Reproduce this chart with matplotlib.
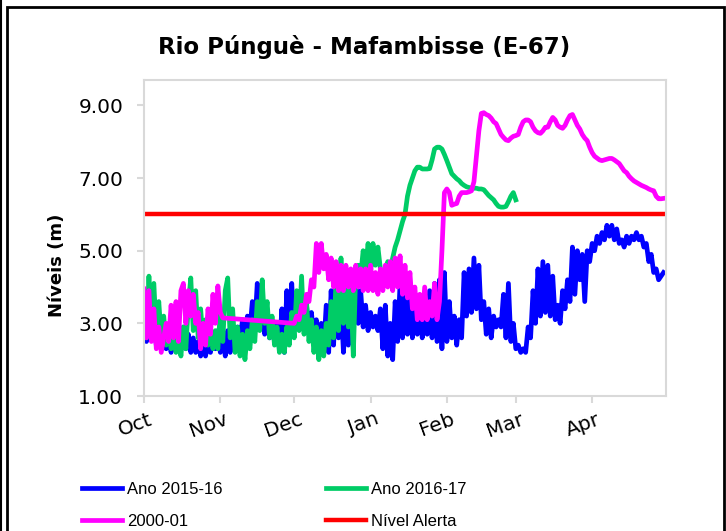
import numpy as np
import matplotlib
matplotlib.use("Agg")
import matplotlib.pyplot as plt
from matplotlib import font_manager
from matplotlib.patches import Rectangle
from matplotlib.lines import Line2D
import matplotlib.transforms as mtransforms

# ---------------- data (daily levels, day 0 = 1 Oct) ----------------
months = ["Oct", "Nov", "Dec", "Jan", "Feb", "Mar", "Apr"]
month_start_days = [0, 31, 61, 92, 123, 151, 182]
season_days = 212
alert_level = 6.0

ano_2015_16 = [
    2.9, 2.5, 3.2, 2.6, 3.1, 2.4, 2.9, 2.3, 2.8, 2.3,
    2.7, 2.2, 2.8, 2.3, 2.7, 2.4, 2.9, 2.3, 2.7, 2.2,
    2.6, 2.2, 2.5, 2.1, 2.4, 2.1, 2.5, 2.2, 2.7, 2.3,
    2.8, 2.2, 2.7, 2.1, 2.8, 2.2, 2.9, 2.3, 2.9, 2.5,
    3.1, 2.7, 3.2, 2.8, 3.6, 2.9, 4.1, 3.0, 3.3, 2.7,
    3.2, 2.6, 3.1, 2.5, 3.0, 2.3, 3.4, 2.2, 3.9, 2.6,
    4.1, 2.8, 3.8, 3.0, 3.6, 2.9, 3.5, 2.8, 3.3, 2.6,
    3.1, 2.5, 3.0, 2.3, 3.5, 2.2, 3.9, 2.4, 4.1, 2.6,
    3.6, 2.2, 3.2, 2.4, 3.9, 2.8, 4.2, 3.0, 3.9, 2.9,
    3.5, 2.8, 3.3, 2.9, 3.2, 2.8, 3.4, 2.3, 3.5, 2.1,
    3.0, 2.0, 3.6, 2.5, 4.1, 2.6, 3.8, 2.7, 3.9, 2.6,
    3.7, 2.7, 3.6, 2.6, 3.8, 2.7, 3.9, 2.6, 4.1, 2.5,
    4.2, 2.3, 4.4, 2.5, 3.6, 2.6, 3.2, 2.4, 3.1, 2.6,
    4.4, 3.2, 4.5, 3.3, 4.8, 3.4, 4.6, 3.1, 3.6, 2.7,
    3.4, 2.6, 3.2, 2.9, 3.1, 2.9, 3.8, 2.6, 4.1, 2.5,
    3.0, 2.3, 2.4, 2.2, 2.3, 2.2, 2.9, 2.6, 3.9, 3.0,
    4.5, 3.2, 4.7, 3.3, 4.6, 3.2, 4.3, 3.1, 3.5, 3.0,
    3.9, 3.4, 4.2, 3.6, 5.1, 3.8, 5.0, 4.2, 4.9, 3.6,
    5.0, 4.7, 5.2, 5.0, 5.4, 5.2, 5.5, 5.3, 5.7, 5.4,
    5.7, 5.3, 5.6, 5.2, 5.3, 5.1, 5.4, 5.2, 5.4, 5.3,
    5.5, 5.3, 5.4, 5.1, 5.2, 4.7, 4.9, 4.4, 4.5, 4.2,
    4.3, 4.4,
]

ano_2016_17 = [
    3.2, 2.6, 4.3, 2.8, 4.1, 2.7, 3.6, 2.6, 3.2, 2.4,
    2.9, 2.3, 2.7, 2.2, 2.6, 2.1, 2.9, 2.3, 3.5, 4.25,
    2.8, 3.9, 2.6, 3.4, 2.5, 3.1, 2.4, 2.9, 2.3, 2.8,
    2.3, 3.3, 2.5, 3.9, 4.25, 2.6, 3.4, 2.2, 2.9, 2.1,
    2.7, 2.0, 2.8, 2.3, 3.1, 2.5, 3.6, 2.8, 4.2, 3.0,
    3.6, 2.6, 3.2, 2.4, 2.9, 2.2, 2.7, 2.2, 2.9, 2.4,
    3.3, 2.6, 3.9, 2.8, 4.3, 2.7, 3.6, 2.5, 3.1, 2.2,
    2.9, 2.0, 2.8, 2.1, 3.0, 2.4, 3.6, 2.6, 4.2, 2.8,
    4.8, 3.0, 4.5, 2.9, 4.0, 2.1, 4.4, 4.6, 4.3, 5.0,
    4.5, 5.2, 4.4, 5.2, 4.6, 5.1, 4.5, 4.4, 4.5, 4.7,
    4.5, 4.8, 5.1, 5.3, 5.55, 5.8, 6.0, 6.5, 6.8, 7.0,
    7.2, 7.3, 7.3, 7.25, 7.25, 7.25, 7.26, 7.5, 7.8, 7.85,
    7.85, 7.8, 7.65, 7.48, 7.3, 7.12, 7.05, 6.98, 6.93, 6.85,
    6.8, 6.76, 6.74, 6.73, 6.72, 6.72, 6.7, 6.7, 6.68, 6.6,
    6.52, 6.46, 6.4, 6.3, 6.22, 6.2, 6.2, 6.22, 6.35, 6.5,
    6.6, 6.4,
]

# 2000-01: October record, gap, then 1 Dec onwards
ano_2000_01_oct = [
    3.95, 2.6, 3.9, 2.5, 3.4, 2.3, 2.9, 2.2, 2.6, 3.0,
    2.5, 3.5, 2.6, 3.6, 2.5, 3.9, 4.1, 3.0, 3.9, 3.2,
    3.8, 3.0, 3.3, 2.3, 3.0, 2.4, 3.4, 2.7, 3.8, 3.0,
    4.03, 3.3, 3.15,
]
ano_2000_01_dec_start = 61
ano_2000_01_dec = [
    3.0, 3.2, 3.1, 3.5, 3.3, 3.8, 3.6, 4.2, 4.0, 5.2,
    4.4, 5.2, 4.5, 4.9, 4.2, 4.8, 4.0, 4.7, 3.9, 4.6,
    3.9, 4.6, 4.0, 4.5, 3.9, 4.6, 4.0, 4.5, 3.9, 4.5,
    3.9, 4.6, 3.9, 4.4, 3.8, 4.5, 3.9, 4.6, 4.0, 4.7,
    3.9, 4.8, 4.0, 4.86, 3.8, 4.6, 3.7, 4.4, 3.4, 4.0,
    3.1, 3.8, 3.1, 4.0, 3.1, 3.6, 3.2, 4.1, 3.1, 3.6,
    5.0, 6.6, 6.7, 6.6, 6.25, 6.28, 6.3, 6.5, 6.6, 6.6,
    6.6, 6.62, 6.65, 6.9, 7.6, 8.3, 8.78, 8.8, 8.75, 8.72,
    8.65, 8.55, 8.5, 8.35, 8.2, 8.12, 8.05, 8.03, 8.1, 8.15,
    8.17, 8.2, 8.4, 8.55, 8.6, 8.6, 8.55, 8.4, 8.3, 8.25,
    8.23, 8.3, 8.4, 8.4, 8.55, 8.67, 8.6, 8.45, 8.4, 8.37,
    8.45, 8.6, 8.72, 8.75, 8.6, 8.45, 8.35, 8.2, 8.1, 8.03,
    7.85, 7.7, 7.6, 7.55, 7.5, 7.48, 7.5, 7.52, 7.54, 7.54,
    7.5, 7.45, 7.4, 7.3, 7.2, 7.15, 7.05, 6.98, 6.92, 6.88,
    6.84, 6.8, 6.77, 6.74, 6.7, 6.67, 6.65, 6.5, 6.43, 6.43,
    6.44,
]

labels = ["Ano 2015-16", "Ano 2016-17", "2000-01", "Nível Alerta"]
colors = ["#0000FF", "#00CC66", "#FF00FF", "#FF0000"]

# ---------------- figure ----------------
W, H = 726, 531
fig = plt.figure(figsize=(W / 100, H / 100), dpi=100)
fig.patch.set_facecolor("white")

def fx(px):
    return px / W

def fy(py):
    return 1 - py / H

ax = fig.add_axes([fx(144), fy(396), fx(666) - fx(144), fy(80) - fy(396)])

x_blue = np.arange(len(ano_2015_16))
x_green = np.arange(len(ano_2016_17))
x_mag = np.concatenate([np.arange(len(ano_2000_01_oct)),
                        ano_2000_01_dec_start + np.arange(len(ano_2000_01_dec))])
y_mag = np.array(ano_2000_01_oct + ano_2000_01_dec)

lw = 3.4
l_blue, = ax.plot(x_blue, ano_2015_16, color=colors[0], lw=lw, solid_joinstyle="round")
l_green, = ax.plot(x_green, ano_2016_17, color=colors[1], lw=lw, solid_joinstyle="round")
l_mag, = ax.plot(x_mag, y_mag, color=colors[2], lw=lw, solid_joinstyle="round")
l_red, = ax.plot([0, season_days], [alert_level, alert_level], color=colors[3], lw=3.2)

ax.set_xlim(0, season_days)
ax.set_ylim(1.0, 9.7)

grey = "#d9d9d9"
for s in ax.spines.values():
    s.set_color(grey)
    s.set_linewidth(1.5)

ax.set_yticks([1, 3, 5, 7, 9])
ax.set_yticklabels(["%.2f" % v for v in [1, 3, 5, 7, 9]])
ax.set_xticks(month_start_days)
ax.set_xticklabels(months)
ax.tick_params(axis="both", color=grey, width=1.5, length=5, direction="out",
               labelsize=14.5, labelcolor="black")
ax.tick_params(axis="y", pad=10)
ax.tick_params(axis="x", pad=5)
for lab in ax.get_yticklabels():
    lab.set_fontfamily("DejaVu Sans")
offset = mtransforms.ScaledTranslation(4 / 100, 0, fig.dpi_scale_trans)
for lab in ax.get_xticklabels():
    lab.set_fontfamily("DejaVu Sans")
    lab.set_rotation(20)
    lab.set_ha("right")
    lab.set_va("top")
    lab.set_rotation_mode("anchor")
    lab.set_transform(lab.get_transform() + offset)

fig.text(fx(364), fy(47), "Rio Púnguè - Mafambisse (E-67)", ha="center", va="center",
         fontsize=16.5, fontweight="bold", family="DejaVu Sans")
fig.text(fx(57), fy(265), "Níveis (m)", rotation=90, ha="center", va="center",
         fontsize=13, fontweight="bold", family="DejaVu Sans")

names = {f.name for f in font_manager.fontManager.ttflist}
if "Liberation Sans Narrow" in names:
    leg_family, leg_size, colsp = "Liberation Sans Narrow", 13, 6.6
else:
    leg_family, leg_size, colsp = "Liberation Sans", 12, 6.2

fig.legend(handles=[l_blue, l_mag, l_green, l_red],
           labels=[labels[0], labels[2], labels[1], labels[3]],
           ncol=2, loc="upper left", bbox_to_anchor=(fx(82), fy(482)),
           frameon=False, prop={"family": leg_family, "size": leg_size},
           handlelength=2.4, handletextpad=0.3, columnspacing=colsp,
           labelspacing=1.0, borderpad=0, borderaxespad=0)

# outer frame
fig.add_artist(Rectangle((fx(7), -0.05), fx(724) - fx(7), fy(7) + 0.05,
                         transform=fig.transFigure, fill=False, ec="black", lw=2))
fig.add_artist(Line2D([fx(1), fx(1)], [0, 1], transform=fig.transFigure, color="black", lw=1.5))

fig.savefig("out.png", dpi=100)
